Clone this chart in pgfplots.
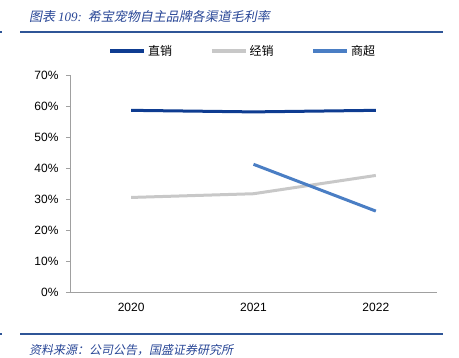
\documentclass[border=0pt]{standalone}
\usepackage{fontspec}
\usepackage{pgfplots}
\pgfplotsset{compat=1.18}
\setmainfont{Liberation Sans}
\newfontfamily\cjk{Noto Sans CJK SC}
\newfontfamily\cjkit[FakeSlant=0.2]{Noto Sans CJK SC}
\newfontfamily\serifit{Liberation Serif}
\definecolor{c1}{RGB}{14,60,145}
\definecolor{c2}{RGB}{200,200,200}
\definecolor{c3}{RGB}{74,126,196}
\definecolor{tblue}{RGB}{40,70,150}
\definecolor{rule}{RGB}{47,85,151}
\definecolor{axgray}{RGB}{160,160,160}
\begin{document}
\begin{tikzpicture}
\path[use as bounding box] (0pt,0pt) rectangle (459pt,-357pt);
% title and rules
\node[anchor=west,text=tblue,inner sep=0pt] at (29pt,-17pt) {\cjkit\fontsize{13}{15}\selectfont 图表\ {\serifit\itshape 109:}\ \ 希宝宠物自主品牌各渠道毛利率};
\draw[rule,line width=1.3pt] (20pt,-32pt) -- (443pt,-32pt);
\draw[rule,line width=1.3pt] (0pt,-32pt) -- (2pt,-32pt);
\draw[rule,line width=1.3pt] (20pt,-334pt) -- (443pt,-334pt);
\draw[rule,line width=1.3pt] (0pt,-334pt) -- (2pt,-334pt);
\node[anchor=west,text=tblue,inner sep=0pt] at (29pt,-350pt) {\cjkit\fontsize{12}{14}\selectfont 资料来源：公司公告，国盛证券研究所};
\begin{axis}[
  at={(70pt,-292pt)}, anchor=south west,
  scale only axis, width=367pt, height=217pt,
  xmin=-0.5, xmax=2.5, ymin=0, ymax=70,
  axis x line*=bottom, axis y line*=left,
  axis line style={axgray,line width=0.8pt},
  xtick={0,1,2}, xticklabels={2020,2021,2022},
  major x tick style={draw=none},
  extra x ticks={0.5,1.5,2.5}, extra x tick labels={},
  extra x tick style={major tick length=5pt, tick style={axgray,line width=0.8pt}, tick align=outside},
  ytick={0,10,...,70},
  yticklabel={\pgfmathprintnumber{\tick}\%},
  y tick style={axgray,line width=0.8pt}, tick align=outside, major tick length=4pt,
  /pgf/number format/assume math mode=true,
  tick label style={font=\fontsize{12}{14}\selectfont, text=black},
  xticklabel style={yshift=-4pt},
  yticklabel style={xshift=-4pt},
  legend columns=3,
  legend style={at={(0.471,1.11)}, anchor=center, draw=none, fill=none,
    font=\cjk\fontsize{12}{14}\selectfont, /tikz/every even column/.append style={column sep=36pt}},
  legend image code/.code={\draw[#1, line width=3.5pt] (0pt,0pt) -- (34pt,0pt);},
]
\addplot[c1, line width=3pt] coordinates {(0,58.6) (1,58.1) (2,58.6)};
\addlegendentry{直销}
\addplot[c2, line width=3pt] coordinates {(0,30.5) (1,31.7) (2,37.6)};
\addlegendentry{经销}
\addplot[c3, line width=3pt] coordinates {(1,41.2) (2,26.1)};
\addlegendentry{商超}
\end{axis}
\end{tikzpicture}
\end{document}
